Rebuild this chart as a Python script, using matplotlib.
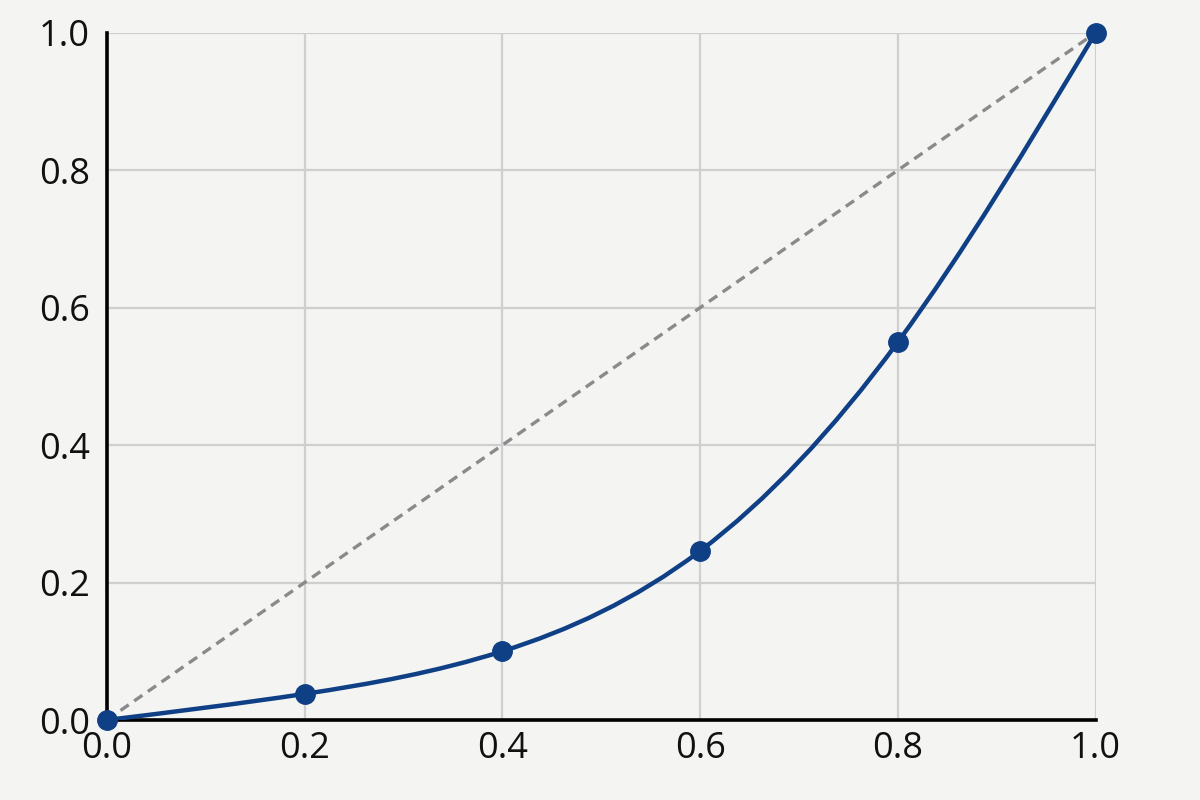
import numpy as np
from matplotlib import pyplot as plt
from matplotlib.path import Path
from matplotlib.patches import PathPatch

# cumulative share of population vs cumulative share of income
population = [0.0, 0.2, 0.4, 0.6, 0.8, 1.0]
income = [0.0, 0.038, 0.10, 0.246, 0.55, 1.0]
ticks = [0.0, 0.2, 0.4, 0.6, 0.8, 1.0]
tick_labels = ['0.0', '0.2', '0.4', '0.6', '0.8', '1.0']

line_color = '#0f3f85'
bg = '#f4f4f2'


def smooth_path(xs, ys):
    # natural cubic spline through the points, drawn as bezier segments
    xs = np.asarray(xs, dtype=float)
    ys = np.asarray(ys, dtype=float)
    n = len(xs)
    h = np.diff(xs)
    d = np.diff(ys) / h
    A = np.zeros((n, n))
    b = np.zeros(n)
    A[0, 0], A[0, 1], b[0] = 2 / h[0], 1 / h[0], 3 * d[0] / h[0]
    for i in range(1, n - 1):
        A[i, i - 1] = 1 / h[i - 1]
        A[i, i] = 2 / h[i - 1] + 2 / h[i]
        A[i, i + 1] = 1 / h[i]
        b[i] = 3 * (d[i - 1] / h[i - 1] + d[i] / h[i])
    A[-1, -2], A[-1, -1], b[-1] = 1 / h[-1], 2 / h[-1], 3 * d[-1] / h[-1]
    m = np.linalg.solve(A, b)

    verts = [(xs[0], ys[0])]
    codes = [Path.MOVETO]
    for i in range(n - 1):
        verts += [(xs[i] + h[i] / 3, ys[i] + m[i] * h[i] / 3),
                  (xs[i + 1] - h[i] / 3, ys[i + 1] - m[i + 1] * h[i] / 3),
                  (xs[i + 1], ys[i + 1])]
        codes += [Path.CURVE4] * 3
    return Path(verts, codes)


plt.rcParams['font.family'] = ['Open Sans', 'DejaVu Sans']

fig = plt.figure(figsize=(12, 8), dpi=100, facecolor=bg)
ax = fig.add_axes([0.089, 0.1, 0.824, 0.859])
ax.set_facecolor(bg)

ax.plot([0, 1], [0, 1], linestyle=(0, (3, 2)), color='#8a8a8a', linewidth=2.4, zorder=2)

ax.add_patch(PathPatch(smooth_path(population, income), facecolor='none',
                       edgecolor=line_color, linewidth=3.2, zorder=3,
                       capstyle='round'))
ax.plot(population, income, 'o', color=line_color, markersize=14, zorder=4, clip_on=False)

ax.set_xlim(0, 1)
ax.set_ylim(0, 1)
ax.set_xticks(ticks)
ax.set_yticks(ticks)
ax.set_xticklabels(tick_labels)
ax.set_yticklabels(tick_labels)
ax.tick_params(length=0, labelsize=26, colors='#111111', pad=12)
ax.tick_params(axis='x', pad=8)

ax.grid(True, color='#cfcfcf', linewidth=1.6)
ax.set_axisbelow(True)
for side in ['top', 'right']:
    ax.spines[side].set_visible(False)
for side in ['left', 'bottom']:
    ax.spines[side].set_linewidth(2.6)
    ax.spines[side].set_color('black')

plt.savefig('out.png', dpi=100, facecolor=bg)
